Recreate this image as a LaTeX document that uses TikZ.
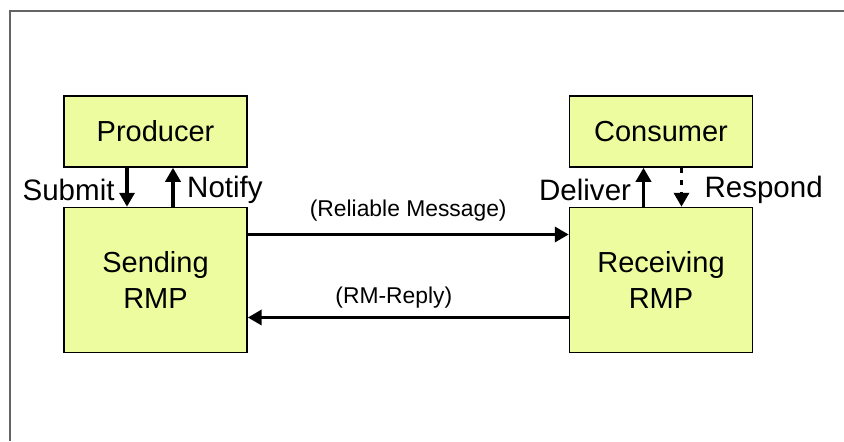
\documentclass[tikz,border=0pt]{standalone}
\usepackage{fontspec}
\setmainfont{Liberation Sans}
\usetikzlibrary{arrows.meta,positioning}
\definecolor{boxfill}{RGB}{238,252,160}
\definecolor{framegray}{RGB}{100,100,100}

\begin{document}
\begin{tikzpicture}[>={Triangle[length=0.28cm,width=0.3cm]},
  rmpbox/.style={draw, fill=boxfill, line width=0.85pt, minimum width=3.66cm,
    align=center, font=\fontsize{16.5}{21}\selectfont},
  flow/.style={->, line width=2.2pt},
  lbl/.style={font=\fontsize{16.8}{19}\selectfont, inner sep=1pt, yshift=-0.05cm},
  msg/.style={font=\fontsize{13}{15}\selectfont}]
  \useasboundingbox (0,0) rectangle (16.88,8.82);
  % frame
  \draw[framegray, line width=1.1pt] (0.2,0) -- (0.2,8.6) -- (16.88,8.6);
  % boxes
  \node[rmpbox, minimum height=1.42cm] (producer) at (3.11,6.19) {Producer};
  \node[rmpbox, minimum height=2.9cm, below=0.78cm of producer] (sender) {Sending\\RMP};
  \node[rmpbox, minimum height=1.42cm, right=6.42cm of producer] (consumer) {Consumer};
  \node[rmpbox, minimum height=2.9cm, below=0.78cm of consumer] (receiver) {Receiving\\RMP};
  % producer <-> sending RMP
  \draw[flow] ([xshift=-0.57cm]producer.south) -- ([xshift=-0.57cm]sender.north)
    node[lbl, midway, left=5pt] {Submit};
  \draw[flow] ([xshift=0.35cm]sender.north) -- ([xshift=0.35cm]producer.south)
    node[lbl, midway, right=6pt] {Notify};
  % receiving RMP <-> consumer
  \draw[flow] ([xshift=-0.35cm]receiver.north) -- ([xshift=-0.35cm]consumer.south)
    node[lbl, midway, left=5pt] {Deliver};
  \draw[flow, dash pattern=on 3pt off 4pt] ([xshift=0.41cm]consumer.south) -- ([xshift=0.41cm]receiver.north)
    node[lbl, midway, right=11pt] {Respond};
  % messages between the RMPs
  \draw[flow] ([yshift=0.91cm]sender.east) -- ([yshift=0.91cm]receiver.west)
    node[msg, midway, above=3pt] {(Reliable Message)};
  \draw[flow] ([yshift=-0.75cm]receiver.west) -- ([yshift=-0.75cm]sender.east)
    node[msg, pos=0.545, above=1pt] {(RM-Reply)};
\end{tikzpicture}
\end{document}
